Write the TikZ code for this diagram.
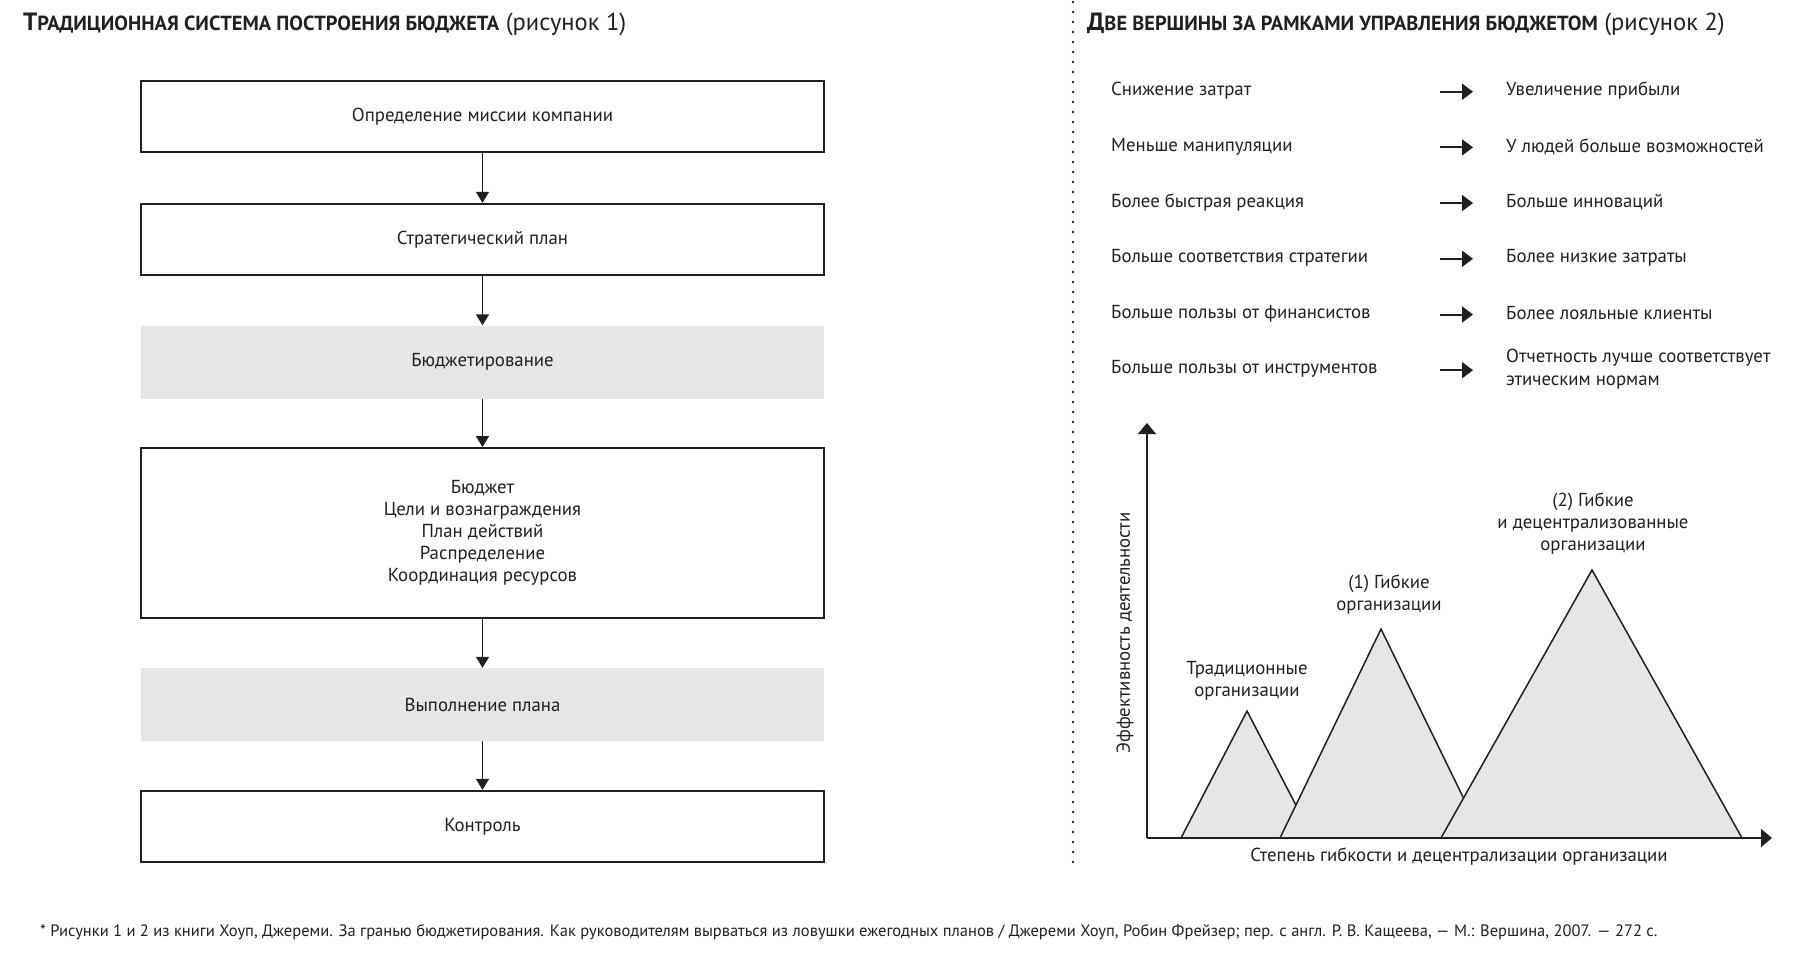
\documentclass[tikz,border=0pt]{standalone}
\usepackage{fontspec}
\setmainfont{PT Sans}
\usetikzlibrary{positioning}
\usetikzlibrary{arrows.meta}

\definecolor{ink}{HTML}{231F20}
\definecolor{boxgray}{HTML}{E6E6E6}

% bold title with small capitals
\newcommand{\headsc}[2]{{\bfseries\fontsize{25}{27}\selectfont #1\fontsize{20.4}{22}\selectfont #2}}

\begin{document}
\begin{tikzpicture}[x=1pt,y=-1pt,
    every node/.style={text=ink, font=\fontsize{18.8}{22}\selectfont},
    stage/.style={draw=ink, line width=1.8pt, minimum width=683pt, minimum height=71.5pt, inner sep=0pt, align=center},
    shaded/.style={fill=boxgray, minimum width=683pt, minimum height=73pt, inner sep=0pt},
    flow/.style={draw=ink, line width=1.4pt, -{Triangle[width=13pt,length=11pt]}},
    gain/.style={draw=ink, line width=2pt, -{Triangle[width=16pt,length=11pt]}},
    axis/.style={draw=ink, line width=2pt, -{Triangle[width=18pt,length=11pt]}},
    peak/.style={draw=ink, fill=boxgray, line width=1.5pt, line join=miter}]
    \useasboundingbox (0,0) rectangle (1800,955);

    % figure 1
    \node[anchor=west, inner sep=0pt, font=\fontsize{24.5}{27}\selectfont] (title1) at (23,24)
      {\headsc{Т}{РАДИЦИОННАЯ СИСТЕМА ПОСТРОЕНИЯ БЮДЖЕТА} (рисунок 1)};
    \node[stage] (mission) at (482.5,116.5) {Определение миссии компании};
    \node[stage] (strategy) at (482.5,239.5) {Стратегический план};
    \node[shaded] (budgeting) at (482.5,362) {Бюджетирование};
    \node[stage, minimum height=170pt] (budget) at (482.5,533)
      {Бюджет\\Цели и вознаграждения\\План действий\\Распределение\\Координация ресурсов};
    \node[shaded] (execution) at (482.5,704.5) {Выполнение плана};
    \node[stage] (control) at (482.5,826.5) {Контроль};
    \draw[flow] (mission) -- (strategy);
    \draw[flow] (strategy) -- (budgeting);
    \draw[flow] (budgeting) -- (budget);
    \draw[flow] (budget) -- (execution);
    \draw[flow] (execution) -- (control);

    % divider
    \coordinate (divtop) at (1073,2);
    \coordinate (divbot) at (1073,864);
    \draw[ink, line width=2.6pt, line cap=round, dash pattern=on 0pt off 10pt] (divtop) -- (divbot);

    % figure 2
    \node[anchor=west, inner sep=0pt, font=\fontsize{24.5}{27}\selectfont] (title2) at (1087,24)
      {\headsc{Д}{ВЕ ВЕРШИНЫ ЗА РАМКАМИ УПРАВЛЕНИЯ БЮДЖЕТОМ} (рисунок 2)};
    \foreach \i/\cause/\effect in {
        1/Снижение затрат/Увеличение прибыли,
        2/Меньше манипуляции/У людей больше возможностей,
        3/Более быстрая реакция/Больше инноваций,
        4/Больше соответствия стратегии/Более низкие затраты,
        5/Больше пользы от финансистов/Более лояльные клиенты,
        6/Больше пользы от инструментов/{Отчетность лучше соответствует\\этическим нормам}}{
        \node[anchor=west, inner sep=0pt] (cause\i) at (1111,35+55.7*\i) {\cause};
        \node[anchor=west, inner sep=0pt, align=left, font=\fontsize{18.8}{23}\selectfont] (effect\i) at (1506,35+55.7*\i) {\effect};
        \coordinate (from\i) at (1440,36+55.7*\i);
        \coordinate (to\i) at (1473,36+55.7*\i);
        \draw[gain] (from\i) -- (to\i);
      }

    % peaks
    \coordinate (origin) at (1147,838);
    \coordinate (ytop) at (1147,423);
    \coordinate (xend) at (1772,838);
    \foreach \l/\tx/\ty/\r in {1181/1247/711/1313, 1280/1381/629/1483, 1441/1592/570/1742}{
        \filldraw[peak] (\l,838) -- (\tx,\ty) -- (\r,838) -- cycle;
      }
    \draw[axis] (origin) -- (ytop);
    \draw[axis] (origin) -- (xend);
    \node[align=center] (trad) at (1247,681) {Традиционные\\организации};
    \node[align=center] (flex) at (1389,595) {(1) Гибкие\\организации};
    \node[align=center] (decent) at (1593,524) {(2) Гибкие\\и децентрализованные\\организации};
    \node[rotate=90] (ylabel) at (1125,633) {Эффективность деятельности};
    \node (xlabel) at (1459,857) {Степень гибкости и децентрализации организации};

    % source
    \node[anchor=west, inner sep=0pt, font=\fontsize{16.5}{19}\selectfont] (source) at (40,932)
      {* Рисунки 1 и 2 из книги Хоуп, Джереми. За гранью бюджетирования. Как руководителям вырваться из ловушки ежегодных планов / Джереми Хоуп, Робин Фрейзер; пер. с англ. Р. В. Кащеева, — М.: Вершина, 2007. — 272 с.};
  \end{tikzpicture}
\end{document}
